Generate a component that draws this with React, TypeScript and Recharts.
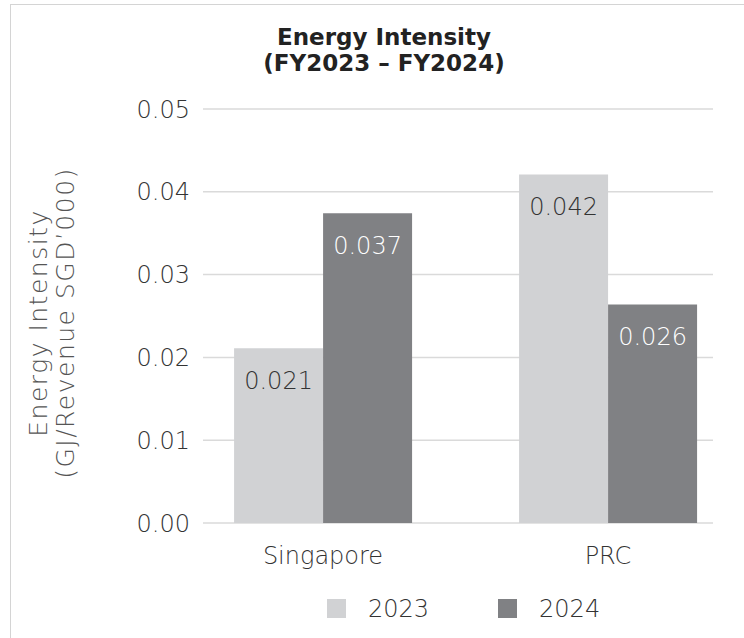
import { Bar, BarChart, CartesianGrid, LabelList, Legend, XAxis, YAxis } from 'recharts'

const LIGHT = '#d1d2d4'
const DARK = '#808184'
const RULE = '#dadada'
const TEXT = '#333333'
const FONT = '"DejaVu Sans", sans-serif'
const LIGHT_WEIGHT = 200

const categories = ['Singapore', 'PRC']
const seriesNames = ['2023', '2024']
const values2023 = [0.0211, 0.0421]
const values2024 = [0.0374, 0.0264]
const yTicks = [0, 0.01, 0.02, 0.03, 0.04, 0.05]

const data = categories.map((name, i) => ({
  name,
  y2023: values2023[i],
  y2024: values2024[i]
}))

function YTitle(): JSX.Element {
  return (
    <g fill="#555555" fontFamily={FONT} fontWeight={LIGHT_WEIGHT} fontSize={25} letterSpacing={1.5}>
      <text x={38} y={323} textAnchor="middle" dominantBaseline="central" transform="rotate(-90 38 323)">
        Energy Intensity
      </text>
      <text x={65} y={323} textAnchor="middle" dominantBaseline="central" transform="rotate(-90 65 323)">
        (GJ/Revenue SGD’000)
      </text>
    </g>
  )
}

function LegendBox(): JSX.Element {
  const items = [
    { label: seriesNames[0], color: LIGHT },
    { label: seriesNames[1], color: DARK }
  ]
  return (
    <div
      style={{
        height: 31,
        display: 'flex',
        justifyContent: 'flex-start',
        alignItems: 'center',
        gap: 69,
        fontFamily: FONT,
        fontWeight: LIGHT_WEIGHT,
        paddingLeft: 327
      }}
    >
      {items.map((it) => (
        <div key={it.label} style={{ display: 'flex', alignItems: 'center' }}>
          <span style={{ width: 19, height: 19, background: it.color, display: 'inline-block', marginRight: 22 }} />
          <span style={{ fontSize: 24, color: TEXT, lineHeight: '26px' }}>{it.label}</span>
        </div>
      ))}
    </div>
  )
}

export default function App(): JSX.Element {
  return (
    <div style={{ position: 'absolute', left: 0, top: 0, width: 744, height: 638, background: '#fff', overflow: 'hidden' }}>
      <div
        style={{
          position: 'absolute',
          left: 10,
          top: 4,
          width: 800,
          height: 700,
          border: '1.5px solid #d4d4d4',
          boxSizing: 'border-box'
        }}
      />
      <div
        style={{
          position: 'absolute',
          left: 0,
          top: 24,
          width: 768,
          textAlign: 'center',
          fontFamily: FONT,
          fontWeight: 700,
          fontSize: 23,
          lineHeight: '26px',
          color: '#222'
        }}
      >
        Energy Intensity
        <br />
        (FY2023 – FY2024)
      </div>
      <BarChart
        width={744}
        height={638}
        data={data}
        margin={{ top: 109, right: 31, bottom: 85, left: 143 }}
        barCategoryGap="18.8%"
        barGap={0}
      >
        <CartesianGrid vertical={false} stroke={RULE} strokeWidth={1.5} />
        <XAxis
          dataKey="name"
          axisLine={false}
          tickLine={false}
          padding={{ left: -22.5, right: -37.5 }}
          tickMargin={18}
          tick={{ fill: TEXT, fontSize: 24, fontFamily: FONT, fontWeight: LIGHT_WEIGHT }}
        />
        <YAxis
          width={60}
          domain={[0, 0.05]}
          ticks={yTicks}
          axisLine={false}
          tickLine={false}
          tickMargin={7}
          tickFormatter={(v: number) => v.toFixed(2)}
          tick={{ fill: TEXT, fontSize: 24, fontFamily: FONT, fontWeight: LIGHT_WEIGHT }}
        />
        <Legend
          layout="horizontal"
          verticalAlign="middle"
          align="center"
          wrapperStyle={{ top: 593, left: 0, width: 744 }}
          content={() => <LegendBox />}
        />
        <Bar dataKey="y2023" name={seriesNames[0]} fill={LIGHT} isAnimationActive={false}>
          <LabelList
            dataKey="y2023"
            position="insideTop"
            offset={24}
            formatter={(v: number) => v.toFixed(3)}
            style={{ fill: TEXT, fontSize: 24, fontFamily: FONT, fontWeight: LIGHT_WEIGHT }}
          />
        </Bar>
        <Bar dataKey="y2024" name={seriesNames[1]} fill={DARK} isAnimationActive={false}>
          <LabelList
            dataKey="y2024"
            position="insideTop"
            offset={24}
            formatter={(v: number) => v.toFixed(3)}
            style={{ fill: '#ffffff', fontSize: 24, fontFamily: FONT, fontWeight: LIGHT_WEIGHT }}
          />
        </Bar>
        <YTitle />
      </BarChart>
    </div>
  )
}
